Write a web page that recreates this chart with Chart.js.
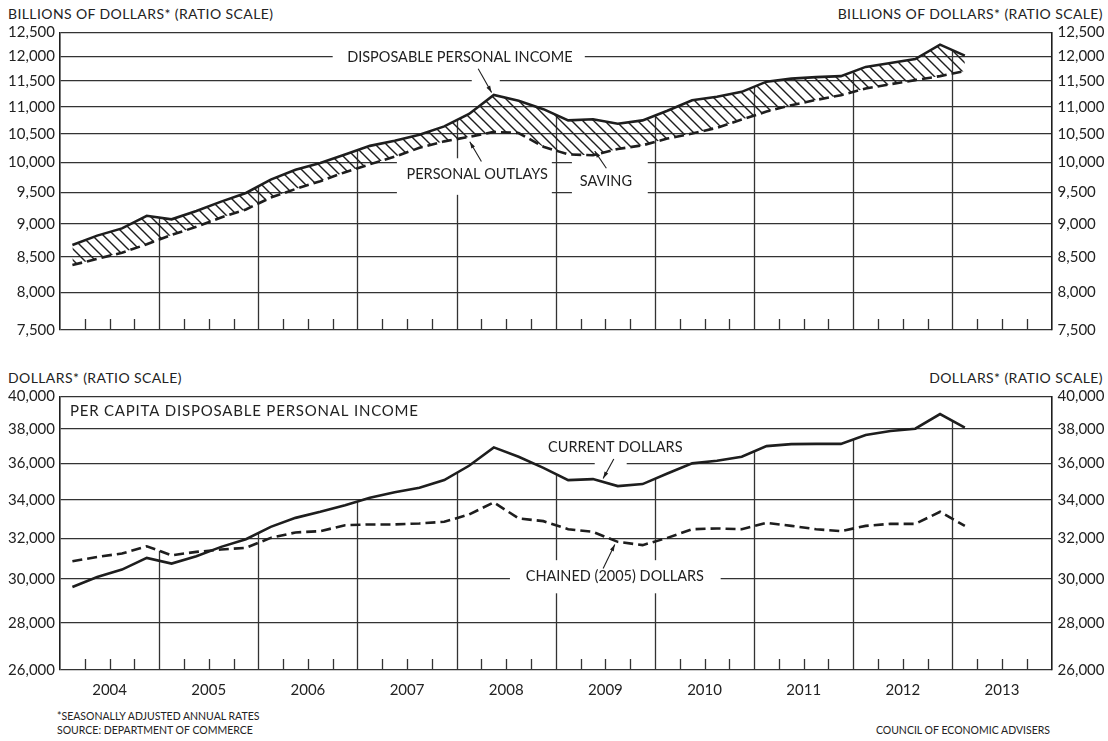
<!DOCTYPE html>
<html>
<head>
<meta charset="utf-8">
<script src="https://cdn.jsdelivr.net/npm/chart.js@4.4.1/dist/chart.umd.min.js"></script>
<style>
  html, body { margin: 0; padding: 0; background: #fff; }
  body { width: 1108px; height: 741px; position: relative; overflow: hidden; font-family: Lato, "Noto Sans", sans-serif; color: #222; }
  canvas { position: absolute; left: 0; }
  .t { position: absolute; white-space: nowrap; font-size: 14px; letter-spacing: 0.4px; line-height: 1; }
  .f { position: absolute; white-space: nowrap; font-size: 10.5px; line-height: 1; }
</style>
</head>
<body>
<div class="t" style="left:8px; top:7px">BILLIONS OF DOLLARS* (RATIO SCALE)</div>
<div class="t" style="right:5px; top:7px">BILLIONS OF DOLLARS* (RATIO SCALE)</div>
<canvas id="income" width="1108" height="345" style="top:0"></canvas>

<div class="t" style="left:8px; top:371px">DOLLARS* (RATIO SCALE)</div>
<div class="t" style="right:5px; top:371px">DOLLARS* (RATIO SCALE)</div>
<canvas id="perCapita" width="1108" height="345" style="top:360px"></canvas>

<div class="f" style="left:57px; top:711px">*SEASONALLY ADJUSTED ANNUAL RATES</div>
<div class="f" style="left:57px; top:725px">SOURCE: DEPARTMENT OF COMMERCE</div>
<div class="f" style="right:58px; top:725px">COUNCIL OF ECONOMIC ADVISERS</div>

<script>
// quarterly data, 2004 Q1 - 2013 Q1
const quarters = [
    '2004 Q1', '2004 Q2', '2004 Q3', '2004 Q4', '2005 Q1', '2005 Q2', '2005 Q3', '2005 Q4',
    '2006 Q1', '2006 Q2', '2006 Q3', '2006 Q4', '2007 Q1', '2007 Q2', '2007 Q3', '2007 Q4',
    '2008 Q1', '2008 Q2', '2008 Q3', '2008 Q4', '2009 Q1', '2009 Q2', '2009 Q3', '2009 Q4',
    '2010 Q1', '2010 Q2', '2010 Q3', '2010 Q4', '2011 Q1', '2011 Q2', '2011 Q3', '2011 Q4',
    '2012 Q1', '2012 Q2', '2012 Q3', '2012 Q4', '2013 Q1'
];
const years = ['2004', '2005', '2006', '2007', '2008', '2009', '2010', '2011', '2012', '2013'];

const incomeTicks = [7500, 8000, 8500, 9000, 9500, 10000, 10500, 11000, 11500, 12000, 12500];
const perCapitaTicks = [26000, 28000, 30000, 32000, 34000, 36000, 38000, 40000];

// billions of dollars
const disposableIncome = [
    8680, 8820, 8930, 9125, 9070, 9200, 9350, 9490,
    9710, 9875, 9990, 10140, 10290, 10380, 10490, 10640,
    10870, 11230, 11120, 10960, 10750, 10770, 10690, 10750,
    10930, 11130, 11195, 11290, 11490, 11550, 11580, 11600,
    11785, 11865, 11945, 12245, 12015
];
const personalOutlays = [
    8385, 8475, 8565, 8690, 8830, 8955, 9100, 9225,
    9415, 9555, 9685, 9835, 9970, 10100, 10255, 10370,
    10450, 10540, 10520, 10275, 10140, 10125, 10235, 10300,
    10420, 10510, 10615, 10765, 10915, 11035, 11135, 11225,
    11355, 11440, 11520, 11600, 11700
];

// per capita, dollars
const currentDollars = [
    29630, 30100, 30455, 31020, 30745, 31105, 31565, 31950,
    32575, 33040, 33355, 33705, 34100, 34400, 34640, 35065,
    35865, 36920, 36375, 35750, 35065, 35120, 34735, 34845,
    35435, 36000, 36150, 36375, 36995, 37110, 37125, 37125,
    37645, 37880, 38020, 38910, 38080
];
const chainedDollars = [
    30855, 31070, 31235, 31595, 31150, 31315, 31435, 31515,
    32015, 32290, 32355, 32660, 32700, 32700, 32750, 32835,
    33215, 33855, 33010, 32870, 32455, 32320, 31815, 31650,
    32015, 32455, 32495, 32455, 32780, 32625, 32455, 32355,
    32625, 32730, 32730, 33355, 32625
];

const INK = '#1e1e1e';
const GRID = '#333';
const FONT = 'Lato, "Noto Sans", sans-serif';

// each quarter sits in the middle of its slot on a 0..40 axis
const points = arr => arr.map((v, i) => ({ x: i + 0.5, y: v }));

function hatchPattern() {
    const size = 11;
    const c = document.createElement('canvas');
    c.width = size; c.height = size;
    const g = c.getContext('2d');
    g.strokeStyle = INK;
    g.lineWidth = 1.4;
    g.beginPath();
    g.moveTo(-2, -2); g.lineTo(size + 2, size + 2);
    g.moveTo(-2, size - 2); g.lineTo(2, size + 2);
    g.moveTo(size - 2, -2); g.lineTo(size + 2, 2);
    g.stroke();
    return g.createPattern(c, 'repeat');
}

// grid breaks, year lines, quarter ticks, labels and arrows
function overlay(cfg) {
    return {
        id: 'overlay',
        beforeDatasetsDraw(chart) {
            const { ctx, chartArea: a, scales: { x, y } } = chart;
            ctx.save();
            ctx.strokeStyle = GRID;
            ctx.lineWidth = 1.3;
            ctx.beginPath();
            for (let q = 1; q < 40; q++) {
                if (q % 4 === 0) continue;
                const px = Math.round(x.getPixelForValue(q)) + 0.5;
                ctx.moveTo(px, a.bottom);
                ctx.lineTo(px, a.bottom - 11);
            }
            // year lines rise from the axis to the upper series
            for (let b = 4; b < 40; b += 4) {
                let top = a.bottom;
                chart.data.datasets.forEach(ds => {
                    const p0 = ds.data.find(p => p.x === b - 0.5);
                    const p1 = ds.data.find(p => p.x === b + 0.5);
                    if (!p0 || !p1) return;
                    top = Math.min(top, (y.getPixelForValue(p0.y) + y.getPixelForValue(p1.y)) / 2);
                });
                const px = Math.round(x.getPixelForValue(b)) + 0.5;
                ctx.moveTo(px, a.bottom);
                ctx.lineTo(px, top);
            }
            ctx.stroke();

            ctx.fillStyle = '#fff';
            cfg.gaps.forEach(g => {
                const x0 = x.getPixelForValue(g.x0), x1 = x.getPixelForValue(g.x1);
                const y0 = y.getPixelForValue(g.y0), y1 = y.getPixelForValue(g.y1);
                ctx.fillRect(x0, Math.min(y0, y1), x1 - x0, Math.abs(y1 - y0));
            });

            ctx.fillStyle = '#222';
            ctx.textBaseline = 'middle';
            cfg.labels.forEach(l => {
                ctx.font = `${l.size || 14.5}px ${FONT}`;
                ctx.letterSpacing = (l.spacing || 0) + 'px';
                ctx.textAlign = l.align || 'center';
                ctx.fillText(l.text, x.getPixelForValue(l.x), y.getPixelForValue(l.y));
            });
            ctx.restore();
        },
        afterDatasetsDraw(chart) {
            const { ctx, scales: { x, y } } = chart;
            ctx.save();
            ctx.strokeStyle = INK;
            ctx.fillStyle = INK;
            ctx.lineWidth = 1.1;
            cfg.arrows.forEach(r => {
                const x0 = x.getPixelForValue(r.x0), y0 = y.getPixelForValue(r.y0);
                const x1 = x.getPixelForValue(r.x1), y1 = y.getPixelForValue(r.y1);
                const ang = Math.atan2(y1 - y0, x1 - x0);
                ctx.beginPath();
                ctx.moveTo(x0, y0);
                ctx.lineTo(x1, y1);
                ctx.stroke();
                ctx.beginPath();
                ctx.moveTo(x1, y1);
                ctx.lineTo(x1 - 7 * Math.cos(ang - 0.3), y1 - 7 * Math.sin(ang - 0.3));
                ctx.lineTo(x1 - 7 * Math.cos(ang + 0.3), y1 - 7 * Math.sin(ang + 0.3));
                ctx.closePath();
                ctx.fill();
            });
            ctx.restore();
        }
    };
}

function logAxis(ticks, position, width, showGrid) {
    return {
        type: 'logarithmic',
        position: position,
        min: ticks[0],
        max: ticks[ticks.length - 1],
        afterBuildTicks: s => { s.ticks = ticks.map(v => ({ value: v })); },
        afterFit: s => { s.width = width; },
        grid: { display: showGrid, color: GRID, lineWidth: 1.3, drawTicks: false },
        border: { display: true, color: INK, width: 1.6 },
        ticks: {
            padding: position === 'left' ? 5 : 6,
            color: '#222',
            font: { family: FONT, size: 15 },
            callback: v => Number(v).toLocaleString('en-US')
        }
    };
}

function quarterAxis(showYears) {
    return {
        type: 'linear',
        min: 0,
        max: 40,
        display: showYears,
        afterBuildTicks: s => { s.ticks = years.map((yr, i) => ({ value: i * 4 + 2 })); },
        afterFit: s => { s.height = showYears ? 30 : 0; },
        grid: { display: false, drawTicks: false },
        border: { display: false },
        ticks: {
            padding: 11,
            autoSkip: false,
            maxRotation: 0,
            color: '#222',
            font: { family: FONT, size: 15 },
            callback: (v, i) => years[i]
        }
    };
}

const solid = { borderColor: INK, borderWidth: 2.6, pointRadius: 0, tension: 0 };
const dashed = { ...solid, borderDash: [10, 5] };

new Chart(document.getElementById('income'), {
    type: 'line',
    data: {
        datasets: [
            { ...solid, label: 'Disposable personal income', data: points(disposableIncome),
              fill: '+1', backgroundColor: hatchPattern() },
            { ...dashed, label: 'Personal outlays', data: points(personalOutlays), fill: false }
        ]
    },
    options: {
        responsive: false,
        animation: false,
        layout: { padding: { top: 32.6, bottom: 11, left: 0, right: 0 } },
        plugins: { legend: { display: false }, tooltip: { enabled: false } },
        scales: {
            x: quarterAxis(false),
            y: logAxis(incomeTicks, 'left', 60, true),
            y2: logAxis(incomeTicks, 'right', 56.4, false)
        }
    },
    plugins: [overlay({
        gaps: [
            { x0: 11.0, x1: 21.17, y0: 12199, y1: 11793 },
            { x0: 16.61, x1: 17.74, y0: 11614, y1: 11399 },
            { x0: 13.59, x1: 19.84, y0: 10073, y1: 9460 },
            { x0: 20.65, x1: 23.71, y0: 10073, y1: 9460 }
        ],
        labels: [
            { text: 'DISPOSABLE PERSONAL INCOME', x: 16.13, y: 11990 },
            { text: 'PERSONAL OUTLAYS', x: 16.83, y: 9791 },
            { text: 'SAVING', x: 22.02, y: 9683 }
        ],
        arrows: [
            { x0: 16.87, y0: 11746, x1: 17.41, y1: 11279 },
            { x0: 17.0, y0: 10016, x1: 16.53, y1: 10362 },
            { x0: 22.04, y0: 9903, x1: 21.57, y1: 10198 }
        ]
    })]
});

new Chart(document.getElementById('perCapita'), {
    type: 'line',
    data: {
        datasets: [
            { ...solid, label: 'Current dollars', data: points(currentDollars), fill: false },
            { ...dashed, label: 'Chained (2005) dollars', data: points(chainedDollars), fill: false }
        ]
    },
    options: {
        responsive: false,
        animation: false,
        layout: { padding: { top: 36.5, bottom: 5, left: 0, right: 0 } },
        plugins: { legend: { display: false }, tooltip: { enabled: false } },
        scales: {
            x: quarterAxis(true),
            y: logAxis(perCapitaTicks, 'left', 60, true),
            y2: logAxis(perCapitaTicks, 'right', 56.4, false)
        }
    },
    plugins: [overlay({
        gaps: [
            { x0: 19.56, x1: 25.24, y0: 37464, y1: 36304 },
            { x0: 21.57, x1: 22.86, y0: 36245, y1: 35741 },
            { x0: 18.15, x1: 26.65, y0: 30909, y1: 29339 }
        ],
        labels: [
            { text: 'PER CAPITA DISPOSABLE PERSONAL INCOME', x: 0.4, y: 39096, align: 'left', size: 15, spacing: 0.8 },
            { text: 'CURRENT DOLLARS', x: 22.4, y: 36897 },
            { text: 'CHAINED (2005) DOLLARS', x: 22.38, y: 30137 }
        ],
        arrows: [
            { x0: 22.34, y0: 36245, x1: 21.91, y1: 35158 },
            { x0: 21.91, y0: 30508, x1: 22.38, y1: 31683 }
        ]
    })]
});
</script>
</body>
</html>
